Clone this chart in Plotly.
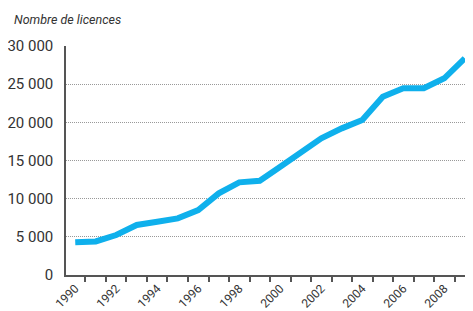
import plotly.graph_objects as go

years = list(range(1990, 2010))
licences = [4300, 4400, 5240, 6550, 6980, 7420, 8500, 10700, 12140, 12350,
            14190, 15940, 17900, 19210, 20300, 23360, 24460, 24460, 25770, 28390]
y_ticks = [0, 5000, 10000, 15000, 20000, 25000, 30000]
y_labels = ["0", "5 000", "10 000", "15 000", "20 000", "25 000", "30 000"]
x_ticks = list(range(1990, 2010, 2))
x_labels = [str(y) for y in x_ticks]

font = "Roboto, Arial"

fig = go.Figure()
fig.add_trace(go.Scatter(x=years, y=licences, mode="lines",
                         line=dict(color="#0FB0EC", width=6, shape="linear"),
                         hoverinfo="skip"))

fig.update_layout(
    width=465, height=303,
    margin=dict(l=58, r=0, t=38, b=36),
    paper_bgcolor="white", plot_bgcolor="white",
    showlegend=False,
    font=dict(family=font, color="#333333", size=15),
)
fig.add_annotation(text="<i>Nombre de licences</i>", xref="paper", yref="paper",
                   x=-54/407, y=1 + 27/229, xanchor="left", yanchor="middle",
                   showarrow=False, font=dict(family=font, size=12.5, color="#333333"))

fig.update_xaxes(
    range=[1989.55, 2009.4], automargin=False,
    tickvals=x_ticks, ticktext=x_labels, tickangle=-45,
    ticks="", showgrid=False, ticklabelstandoff=0,
    showline=True, linecolor="#555555", linewidth=1.5,
    minor=dict(tickmode="linear", tick0=1989.5, dtick=1, ticks="outside",
               ticklen=5, tickcolor="#555555", tickwidth=1.5, showgrid=False),
    tickfont=dict(size=12), zeroline=False,
)
fig.update_yaxes(
    range=[0, 30000], automargin=False,
    tickvals=y_ticks, ticktext=y_labels,
    showgrid=True, gridcolor="#999999", griddash="1px,1px", gridwidth=1,
    showline=True, linecolor="#555555", linewidth=1.5,
    ticks="", ticklabelstandoff=8, zeroline=False,
    tickfont=dict(size=15),
)

fig.write_html("out.html")
